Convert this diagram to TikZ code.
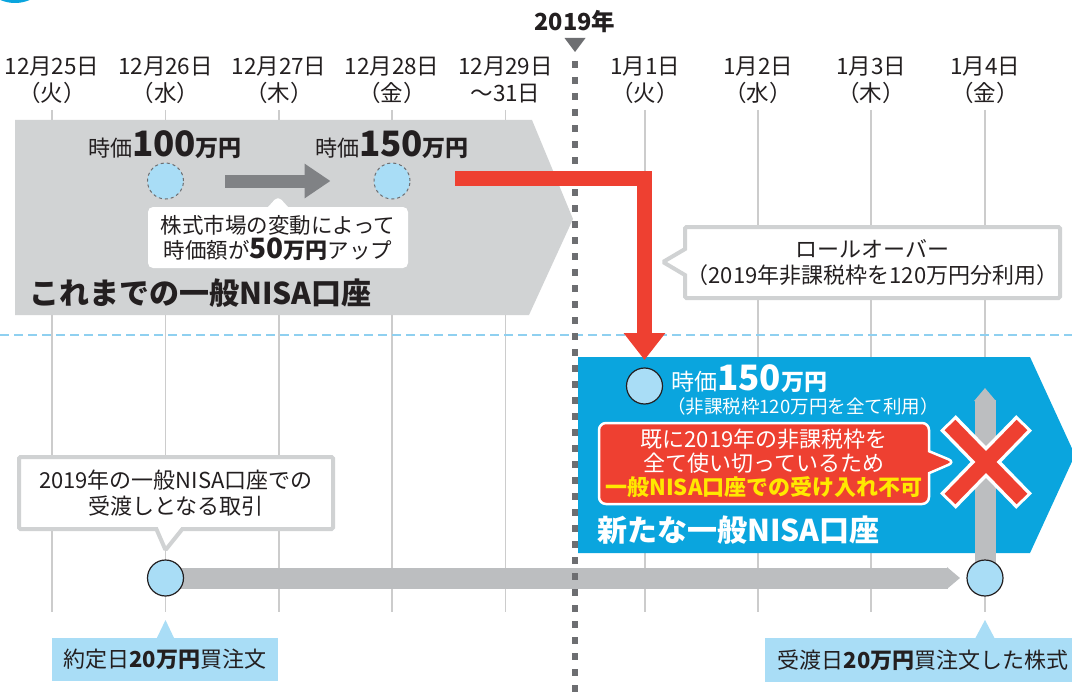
\documentclass[tikz,border=0pt]{standalone}
\usepackage{fontspec}
\setmainfont{Noto Sans CJK JP}
\usetikzlibrary{shapes.callouts}
\usetikzlibrary{arrows.meta}

\definecolor{bandgray}{HTML}{D1D3D4}
\definecolor{notegray}{HTML}{D0D2D3}
\definecolor{arrowgray}{HTML}{808285}
\definecolor{bargray}{HTML}{BCBEC0}
\definecolor{gridgray}{HTML}{CCCCCC}
\definecolor{dotgray}{HTML}{6D6E71}
\definecolor{nisablue}{HTML}{0AA5DE}
\definecolor{paleblue}{HTML}{A9DDF6}
\definecolor{dashblue}{HTML}{8FD0F0}
\definecolor{alertred}{HTML}{EE4031}
\definecolor{warnyellow}{HTML}{FFE800}
\definecolor{textdark}{HTML}{231F20}

\newcommand{\jsize}[1]{\fontsize{#1}{#1}\selectfont}

\tikzset{x=1pt, y=-1pt, % one unit is one pixel of the layout, y going down
    gridline/.style={draw=gridgray, line width=1.5pt}, % day columns
    datelabel/.style={align=center, text=textdark, inner sep=0pt,
    font=\fontsize{22.5}{27}\selectfont},
    yeardash/.style={draw=dashblue, line width=1.5pt, dash pattern=on 9pt off 5pt},
    daydots/.style={draw=dotgray, line width=5.5pt, dash pattern=on 7pt off 9pt},
    oldcircle/.style={circle, draw=dotgray, dashed, line width=1pt,
    fill=paleblue, minimum size=36pt, inner sep=0pt},
    stockcircle/.style={circle, draw=textdark, line width=1.2pt,
    fill=paleblue, minimum size=36pt, inner sep=0pt},
    shiftarrow/.style={draw=arrowgray, line width=13pt,
    -{Triangle[length=26pt, width=33pt]}},
    settlebar/.style={draw=bargray, line width=21pt,
    -{Triangle[length=13pt, width=21pt]}},
    rollarrow/.style={draw=alertred, line width=15pt, line join=miter,
    -{Triangle[length=27pt, width=40pt]}},
    % speech boxes
    whitenote/.style={rectangle callout, fill=white, rounded corners=5pt,
    callout pointer width=20pt, align=center, text=textdark, inner sep=0pt,
    font=\fontsize{21.5}{25}\selectfont},
    graynote/.style={rectangle callout, fill=white, draw=notegray, line width=4pt,
    rounded corners=1.5pt, callout pointer width=26pt, align=center,
    text=textdark, inner sep=0pt, font=\fontsize{22}{26.5}\selectfont},
    alertnote/.style={rectangle callout, fill=alertred, draw=white, line width=2.5pt,
    rounded corners=7pt, callout pointer width=22pt, align=center,
    text=white, inner sep=0pt, font=\fontsize{22}{24}\selectfont},
    datenote/.style={fill=paleblue, text=textdark, inner sep=0pt, font=\jsize{22}},
    bandtitle/.style={anchor=west, inner sep=0pt, font=\bfseries\jsize{30}},
    xwhite/.style={draw=white, line width=22pt, shorten <=-3pt, shorten >=-3pt},
    xred/.style={draw=alertred, line width=15pt}
}

\begin{document}
\begin{tikzpicture}
    \clip (0,0) rectangle (1072,693);
    \fill[white] (0,0) rectangle (1072,693);

    % corner badge, cut off by the page
    \fill[nisablue] (15,-34) circle (37);

    % Day columns and their dates
    \foreach \x in {52,165.5,279,392,505.5,645,758,871,985} {
            \draw[gridline] (\x,110) -- (\x,612);
        }
    \foreach \x/\day/\wday [count=\i] in {52/12月25日/（火）, 165.5/12月26日/（水）,
            279/12月27日/（木）, 392/12月28日/（金）, 505.5/12月29日/～31日,
            645/1月1日/（火）, 758/1月2日/（水）, 871/1月3日/（木）, 985/1月4日/（金）} {
            \node[datelabel] (day\i) at (\x,80) {\day\\\wday};
        }

    % border between the two accounts
    \draw[yeardash] (0,335) -- (1072,335);

    % Old account band
    \fill[bandgray] (15,120) -- (532,120) -- (573,219) -- (529,315) -- (15,315) -- cycle;
    \node[bandtitle, text=textdark] (oldtitle) at (29,293) {これまでの一般NISA口座};

    \node[oldcircle] (c100) at (165.5,181) {};
    \node[oldcircle] (c150) at (392,181) {};
    \node[text=textdark, inner sep=0pt] (p100) at (165,145)
    {\jsize{22}時価{\bfseries\jsize{35}100\jsize{23}万円}};
    \node[text=textdark, inner sep=0pt] (p150) at (392,145)
    {\jsize{22}時価{\bfseries\jsize{35}150\jsize{23}万円}};
    \draw[shiftarrow, shorten <=41pt, shorten >=43pt] (c100) -- (c150);

    \node[whitenote, callout absolute pointer={(278,196)},
        minimum width=260, minimum height=61] (shiftnote) at (278,237.5)
    {株式市場の変動によって\\時価額が{\bfseries\jsize{28}50\jsize{22}万円}アップ};

    % Trade line along the bottom
    \coordinate (trade) at (165.5,578);
    \coordinate (settle) at (985,578);
    \draw[settlebar, shorten >=25pt] (trade) -- (settle);

    % 2019 marker
    \node[text=textdark, inner sep=0pt, font=\bfseries\jsize{23.5}] (year) at (575,22) {2019年};
    \fill[dotgray] (564.5,38) -- (585.5,38) -- (575,52) -- cycle;
    \draw[daydots] (575,61) -- (575,693);

    % New account band
    \fill[nisablue] (578,357) -- (1030,357) -- (1075,455) -- (1030,553) -- (578,553) -- cycle;
    \node[bandtitle, text=white] (newtitle) at (597,530) {新たな一般NISA口座};

    \node[stockcircle] (cnow) at (644.5,386) {};
    \node[anchor=west, text=white, inner sep=0pt] (pnow) at (671,379)
    {\jsize{23}時価{\bfseries\jsize{35}150\jsize{23}万円}};
    \node[anchor=west, text=white, inner sep=0pt, font=\jsize{18.5}] (quota) at (667,406)
    {（非課税枠120万円を全て利用）};

    % settlement rising into the new account
    \coordinate (settletop) at (985,388);
    \draw[settlebar] (settle) -- (settletop);

    % refused
    \draw[xwhite] (950,425) -- (1022,499);
    \draw[xwhite] (1022,425) -- (950,499);
    \draw[xred] (950,425) -- (1022,499);
    \draw[xred] (1022,425) -- (950,499);

    \node[alertnote, callout absolute pointer={(955,462)},
        minimum width=330, minimum height=81] (refuse) at (764,463.5)
    {既に2019年の非課税枠を\\全て使い切っているため\\
        \textcolor{warnyellow}{\bfseries 一般NISA口座での受け入れ不可}};

    % Rollover
    \coordinate (rollfrom) at (455,178);
    \coordinate (rollto) at (644.5,360);
    \draw[rollarrow] (rollfrom) -| (rollto);

    \node[graynote, callout absolute pointer={(663,262)},
        minimum width=375, minimum height=71] (rollnote) at (872.5,262.5)
    {ロールオーバー\\（2019年非課税枠を120万円分利用）};

    % Trade and settlement days
    \node[graynote, callout absolute pointer={(165.5,550)},
        minimum width=314, minimum height=72] (tradenote) at (176,493)
    {2019年の一般NISA口座での\\受渡しとなる取引};

    \node[stockcircle] (ctrade) at (trade) {};
    \node[stockcircle] (csettle) at (settle) {};

    \node[datenote, minimum width=226, minimum height=43] (tradeday) at (165,659.5)
    {約定日{\bfseries 20万円}買注文};
    \fill[paleblue] (tradeday.north -| ctrade) ++(-9,1) -- (165.5,620) -- ++(9,19) -- cycle;
    \node[datenote, minimum width=316, minimum height=44] (settleday) at (923,660)
    {受渡日{\bfseries 20万円}買注文した株式};
    \fill[paleblue] (settleday.north -| csettle) ++(-10,1) -- (985,620) -- ++(10,19) -- cycle;

\end{tikzpicture}
\end{document}
